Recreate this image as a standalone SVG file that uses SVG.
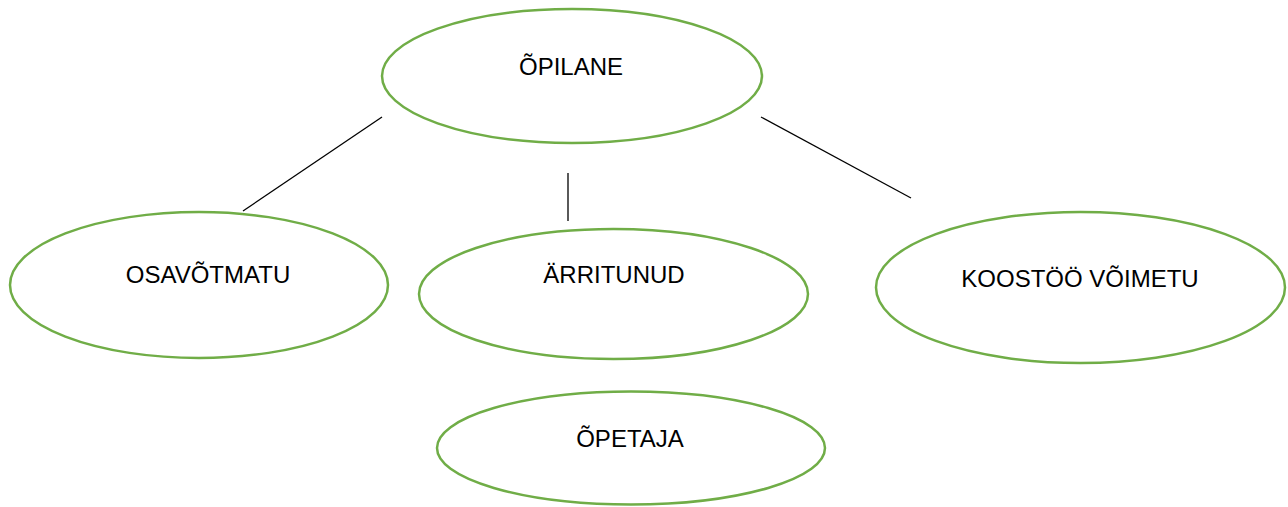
<svg xmlns="http://www.w3.org/2000/svg" width="1288" height="507" viewBox="0 0 1288 507">
<style>
.node ellipse{fill:#fff;stroke:#70AD47;stroke-width:2.5}
.node text{font-family:"Liberation Sans",Arial,sans-serif;font-size:24px;fill:#000;text-anchor:middle}
.conn line{stroke:#000;stroke-width:1.3}
</style>
<rect width="1288" height="507" fill="#fff"/>
<g id="connectors" class="conn">
<line x1="243" y1="211" x2="382" y2="117"/>
<line x1="568" y1="173" x2="568" y2="221"/>
<line x1="761" y1="117" x2="911" y2="198"/>
</g>
<g id="opilane" class="node">
<ellipse cx="572" cy="76" rx="190" ry="67"/>
<text x="571" y="75">ÕPILANE</text>
</g>
<g id="osavotmatu" class="node">
<ellipse cx="199" cy="285" rx="189" ry="73"/>
<text x="208" y="283">OSAVÕTMATU</text>
</g>
<g id="arritunud" class="node">
<ellipse cx="613.5" cy="294" rx="194.5" ry="65"/>
<text x="614" y="283">ÄRRITUNUD</text>
</g>
<g id="koostoo" class="node">
<ellipse cx="1080.5" cy="287.5" rx="204.5" ry="75.5"/>
<text x="1080" y="287">KOOSTÖÖ VÕIMETU</text>
</g>
<g id="opetaja" class="node">
<ellipse cx="631" cy="448" rx="194" ry="56.5"/>
<text x="630" y="447">ÕPETAJA</text>
</g>
</svg>
